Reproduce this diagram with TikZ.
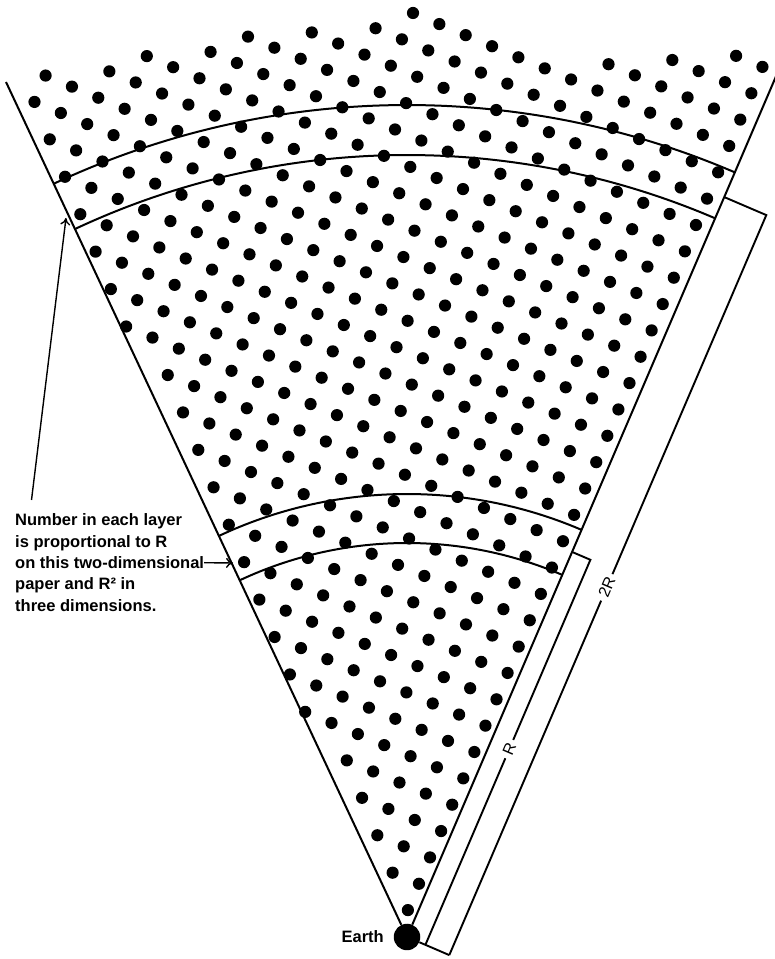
\documentclass[tikz,border=0pt]{standalone}
\usepackage{fontspec}
\setmainfont{Liberation Sans}
\usetikzlibrary{arrows.meta}
\begin{document}
\begin{tikzpicture}[x=1pt,y=1pt,
  edge/.style={line width=2pt},
  dimline/.style={line width=1.9pt},
  notetext/.style={font=\fontsize{16.5}{20}\selectfont\bfseries, inner sep=0pt, anchor=base west},
  dimlabel/.style={font=\fontsize{16}{18}\selectfont, rotate=66.8, inner xsep=4pt, inner ysep=0pt},
  pointer/.style={line width=1.4pt, -{To[length=7pt,width=10pt]}}]
\useasboundingbox (0,0) rectangle (775,959);
\fill[white] (0,0) rectangle (775,959);
\coordinate (apex) at (407,22);
\coordinate (ltop) at (6,877);
\coordinate (rtop) at (777,885);
% dots: square lattice
\foreach \a/\bt in {-11/7,-10/7,-9/6,-8/5,-7/5,-6/4,-5/3,-4/3,-3/2,-2/2,-1/1,0/0,1/0,2/0,3/0,4/0,5/0,6/0,7/-1,8/-1,9/-2,10/-2,11/-3,12/-3}{
  \foreach \b in {\bt,...,40}{
    \pgfmathsetmacro\X{413+26.35*\a-11.08*\b}
    \pgfmathsetmacro\Y{946-11.08*\a-26.35*\b}
    \pgfmathtruncatemacro\ok{and(and(0.9054*(\X-407)+0.4246*(\Y-22)>3, -0.9192*(\X-407)+0.3938*(\Y-22)>3), \Y>40)}
    \ifnum\ok=1 \fill (\X,\Y) circle (6.1); \fi
  }
}
% Earth
\node[circle, fill=black, minimum size=26.5pt, inner sep=0pt] (earth) at (apex) {};
\node[font=\fontsize{16.5}{20}\selectfont\bfseries, anchor=east, inner sep=0pt] (earthlbl) at (384,22) {Earth};
% wedge edges
\draw[edge] (earth) -- (ltop);
\draw[edge] (earth) -- (rtop);
% layer arcs
\draw[edge] (apex) ++(115.13:394) arc[start angle=115.13, end angle=66.8, radius=394];
\draw[edge] (apex) ++(115.13:443) arc[start angle=115.13, end angle=66.8, radius=443];
\draw[edge] (apex) ++(115.13:782) arc[start angle=115.13, end angle=66.8, radius=782];
\draw[edge] (apex) ++(115.13:832) arc[start angle=115.13, end angle=66.8, radius=832];
% dimension brackets
\coordinate (r1bot) at (425.38,14.12);
\coordinate (r1top) at (590.4,399.2);
\coordinate (r1edge) at (572.0,407.1);
\coordinate (r2bot) at (449.3,3.9);
\coordinate (r2top) at (766.3,743.9);
\coordinate (r2edge) at (724.0,762.0);
\node[dimlabel] (labR) at (509.3,209.9) {R};
\node[dimlabel] (lab2R) at (606.8,371.6) {2R};
\draw[dimline] (earth.-23.2) -- (r2bot);
\draw[dimline] (r1bot) -- (labR) -- (r1top) -- (r1edge);
\draw[dimline] (r2bot) -- (lab2R) -- (r2top) -- (r2edge);
% annotation
\node[notetext] (line1) at (15,433) {Number in each layer};
\node[notetext] (line2) at (15,411.7) {is proportional to R};
\node[notetext] (line3) at (15,390.4) {on this two-dimensional};
\node[notetext] (line4) at (15,369.1) {paper and R² in};
\node[notetext] (line5) at (15,347.8) {three dimensions.};
\coordinate (lay1) at (233,396);
\draw[pointer] (line3.east) -- (lay1);
\coordinate (ptail) at (31.5,459);
\coordinate (lay2) at (66,741);
\draw[pointer] (ptail) -- (lay2);
\end{tikzpicture}
\end{document}
